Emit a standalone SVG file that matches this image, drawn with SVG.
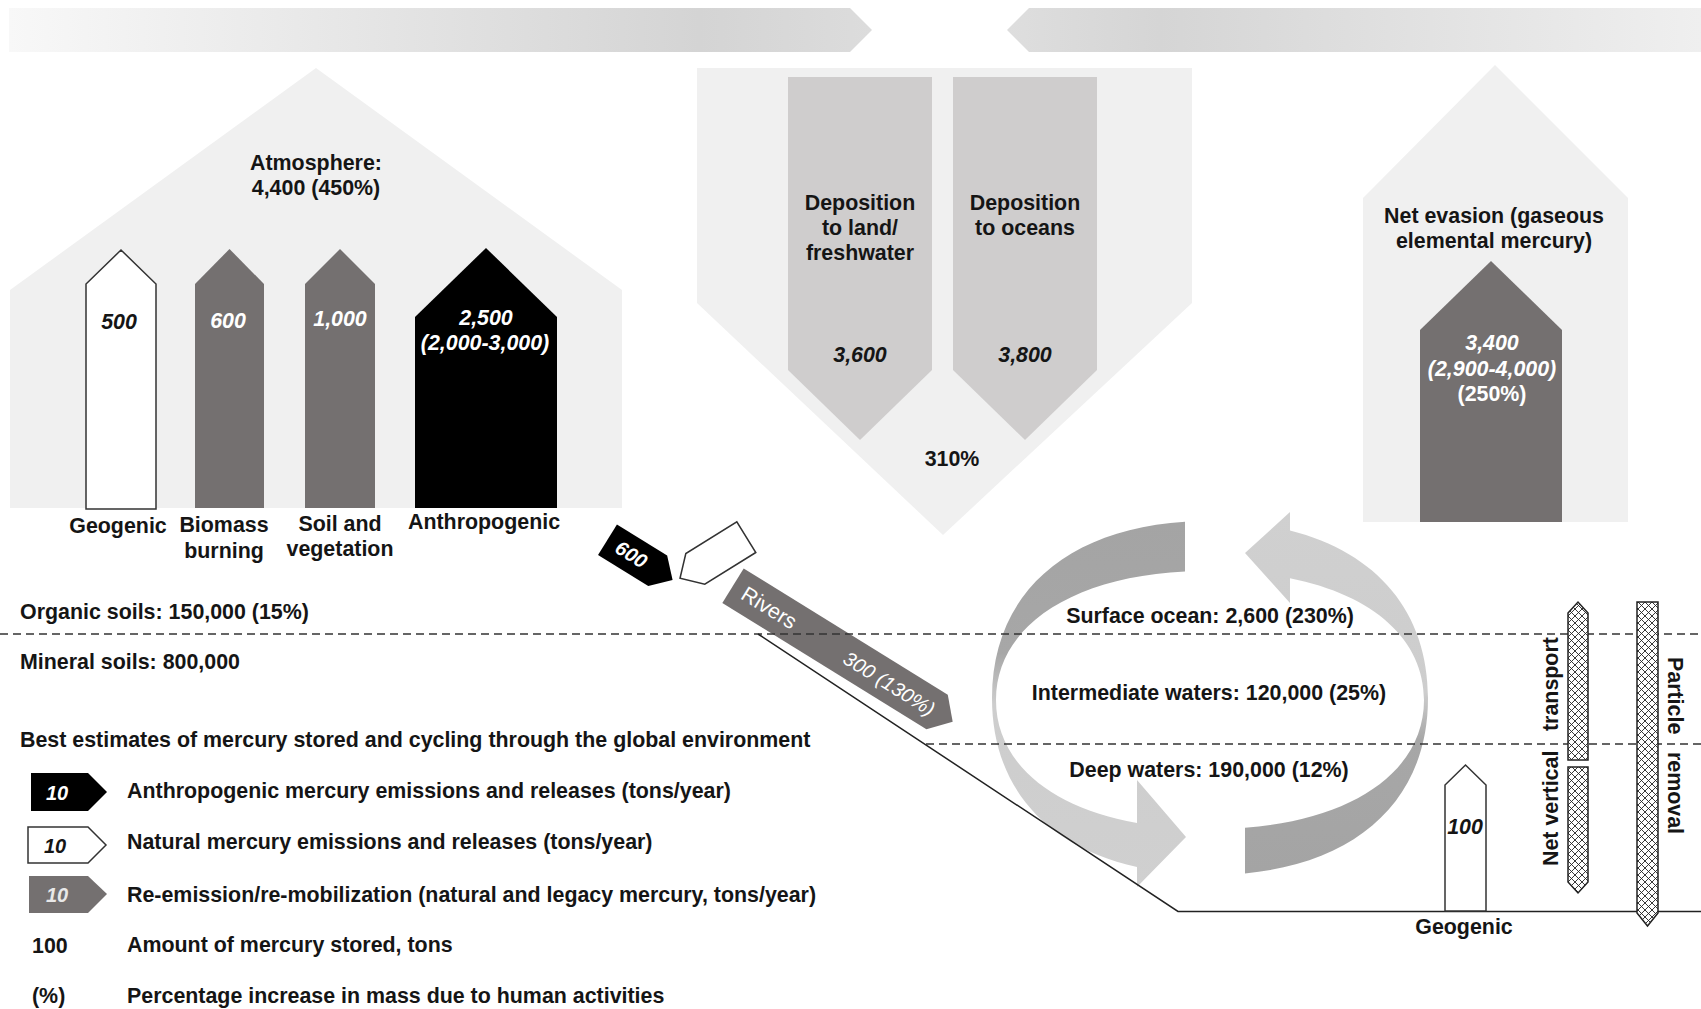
<svg xmlns="http://www.w3.org/2000/svg" width="1701" height="1009" viewBox="0 0 1701 1009">
<defs>
<style>
.t{font-family:"Liberation Sans",Arial,Helvetica,sans-serif;font-size:21.4px;font-weight:bold;fill:#151515}
.c{text-anchor:middle}
.i{font-style:italic}
.w{fill:#fff}
.n{font-weight:normal}
.bg{fill:#f0f0f0}
.gr{fill:#747070}
.dep{fill:#cfcdcd}
.ol{fill:#fff;stroke:#333;stroke-width:1.5}
.dash{stroke:#333;stroke-width:1.5;stroke-dasharray:8 5;fill:none}
.hb{fill:url(#hatch);stroke:#222;stroke-width:1.5}
</style>
<linearGradient id="bannerL" x1="0" y1="0" x2="1" y2="0">
<stop offset="0" stop-color="#f8f8f8"/>
<stop offset="0.8" stop-color="#d4d4d4"/>
<stop offset="1" stop-color="#dcdcdc"/>
</linearGradient>
<linearGradient id="bannerR" x1="0" y1="0" x2="1" y2="0">
<stop offset="0" stop-color="#dedede"/>
<stop offset="0.22" stop-color="#d5d5d5"/>
<stop offset="1" stop-color="#efefef"/>
</linearGradient>
<linearGradient id="arcL" x1="0" y1="0" x2="0" y2="1">
<stop offset="0" stop-color="#a4a4a4"/>
<stop offset="0.36" stop-color="#a7a7a7"/>
<stop offset="0.5" stop-color="#cdcdcd"/>
<stop offset="1" stop-color="#d0d0d0"/>
</linearGradient>
<linearGradient id="arcR" x1="0" y1="0" x2="0" y2="1">
<stop offset="0" stop-color="#d0d0d0"/>
<stop offset="0.5" stop-color="#cdcdcd"/>
<stop offset="0.63" stop-color="#a7a7a7"/>
<stop offset="1" stop-color="#a4a4a4"/>
</linearGradient>
<pattern id="hatch" width="7" height="7" patternUnits="userSpaceOnUse">
<rect width="7" height="7" fill="#fff"/>
<path d="M0,0 L7,7 M7,0 L0,7" stroke="#222" stroke-width="0.9"/>
</pattern>
</defs>

<g id="banners">
<path d="M9,8 H850 L872,30 L850,52 H9 Z" fill="url(#bannerL)"/>
<path d="M1029,8 H1701 V52 H1029 L1007,30 Z" fill="url(#bannerR)"/>
</g>

<g id="atmosphere">
<path class="bg" d="M10,508 V290 L316,68 L622,290 V508 Z"/>
<text class="t c" x="316" y="170">Atmosphere:</text>
<text class="t c" x="316" y="195">4,400 (450%)</text>
<g id="atm-geogenic">
<path class="ol" d="M86,509 V284 L121,250 L156,284 V509 Z"/>
<text class="t c i" x="119" y="329">500</text>
<text class="t c" x="118" y="533">Geogenic</text>
</g>
<g id="atm-biomass">
<path class="gr" d="M195,508 V284 L229.5,249 L264,284 V508 Z"/>
<text class="t c i w" x="228" y="328">600</text>
<text class="t c" x="224" y="532">Biomass</text>
<text class="t c" x="224" y="558">burning</text>
</g>
<g id="atm-soil">
<path class="gr" d="M305,508 V284 L340,249 L375,284 V508 Z"/>
<text class="t c i w" x="340" y="326">1,000</text>
<text class="t c" x="340" y="531">Soil and</text>
<text class="t c" x="340" y="556">vegetation</text>
</g>
<g id="atm-anthropogenic">
<path d="M415,508 V317 L486,248 L557,317 V508 Z" fill="#000"/>
<text class="t c i w" x="486" y="325">2,500</text>
<text class="t c i w" x="485" y="350">(2,000-3,000)</text>
<text class="t c" x="484" y="529">Anthropogenic</text>
</g>
</g>

<g id="deposition">
<path class="bg" d="M697,68 H1192 V303 L943,535 L697,303 Z"/>
<g id="dep-land">
<path class="dep" d="M788,77 H932 V370 L860,440 L788,370 Z"/>
<text class="t c" x="860" y="210">Deposition</text>
<text class="t c" x="860" y="235">to land/</text>
<text class="t c" x="860" y="260">freshwater</text>
<text class="t c i" x="860" y="362">3,600</text>
</g>
<g id="dep-ocean">
<path class="dep" d="M953,77 H1097 V370 L1025,440 L953,370 Z"/>
<text class="t c" x="1025" y="210">Deposition</text>
<text class="t c" x="1025" y="235">to oceans</text>
<text class="t c i" x="1025" y="362">3,800</text>
</g>
<text class="t c" x="952" y="466">310%</text>
</g>

<g id="net-evasion">
<path class="bg" d="M1363,522 V198 L1495,65 L1628,198 V522 Z"/>
<text class="t c" x="1494" y="223">Net evasion (gaseous</text>
<text class="t c" x="1494" y="248">elemental mercury)</text>
<path class="gr" d="M1420,522 V330 L1491,261 L1562,330 V522 Z"/>
<text class="t c i w" x="1492" y="350">3,400</text>
<text class="t c i w" x="1492" y="376">(2,900-4,000)</text>
<text class="t c w" x="1492" y="401">(250%)</text>
</g>

<g id="ocean-cycle">
<path d="M1185,521.7 C1065.3,529.2 992,594.6 992,698 C992,786 1045.1,846.5 1137,867 L1137,887 L1186,837 L1137,780 L1137,823 C1048.7,807.2 996,761.6 996,700 C996,627.6 1069.9,577.3 1185,571.6 Z" fill="url(#arcL)"/>
<path d="M1245,873.4 C1359.3,862.6 1428,798.1 1428,698 C1428,612.2 1377.5,552.5 1290,530.4 L1290,512 L1245,553 L1290,603 L1290,578.2 C1374,595 1424,639.9 1424,700 C1424,770.1 1354.9,819.4 1245,827.8 Z" fill="url(#arcR)"/>
<text class="t c" x="1210" y="623">Surface ocean: 2,600 (230%)</text>
<text class="t c" x="1209" y="700">Intermediate waters: 120,000 (25%)</text>
<text class="t c" x="1209" y="777">Deep waters: 190,000 (12%)</text>
</g>

<g id="land-flows">
<g id="flow-anthro-600" transform="translate(607.5,539.7) rotate(31.7)">
<path d="M0,-18 H59 L76.5,0 L59,18 H0 Z" fill="#000"/>
<text class="t c i w" x="28" y="7" style="font-size:20px">600</text>
</g>
<g id="flow-natural" transform="translate(746.3,537.2) rotate(148.2)">
<path class="ol" d="M0,-18 H60 L78,0 L60,18 H0 Z"/>
</g>
<g id="flow-rivers" transform="translate(733,585.8) rotate(31.74)">
<path class="gr" d="M0,-20.3 H240 L258.3,0 L240,20.3 H0 Z"/>
<text class="t n w" x="12" y="7">Rivers</text>
<text class="t n i w" x="236" y="8" style="text-anchor:end;font-size:20px">300 (130%)</text>
</g>
</g>

<g id="connectors">
<path class="dash" d="M0,634 H1701"/>
<path class="dash" d="M926,744 H1701"/>
<path d="M758,634 L1178,911.5 H1701" fill="none" stroke="#222" stroke-width="1.5"/>
</g>

<g id="soils">
<text class="t" x="20" y="619">Organic soils: 150,000 (15%)</text>
<text class="t" x="20" y="669">Mineral soils: 800,000</text>
</g>

<g id="deep-ocean">
<g id="ocean-geogenic">
<path class="ol" d="M1445,911 V785 L1465.5,765 L1486,785 V911 Z"/>
<text class="t c i" x="1465" y="834">100</text>
<text class="t c" x="1464" y="934">Geogenic</text>
</g>
<g id="net-vertical-transport">
<path class="hb" d="M1568,613 L1578,602 L1588,613 V760 H1568 Z"/>
<path class="hb" d="M1568,767 H1588 V882 L1578,893 L1568,882 Z"/>
<text class="t" transform="translate(1558,866) rotate(-90)"><tspan x="0">Net vertical</tspan><tspan x="135">transport</tspan></text>
</g>
<g id="particle-removal">
<path class="hb" d="M1637,602 H1658 V913 L1647.5,926 L1637,913 Z"/>
<text class="t" transform="translate(1668,657) rotate(90)"><tspan x="0">Particle</tspan><tspan x="95">removal</tspan></text>
</g>
</g>

<g id="legend">
<text class="t" x="20" y="747">Best estimates of mercury stored and cycling through the global environment</text>
<g id="legend-anthro">
<path d="M31,773 H88 L107,792 L88,811 H31 Z" fill="#000"/>
<text class="t c i w" x="57" y="800" style="font-size:20px">10</text>
<text class="t" x="127" y="798">Anthropogenic mercury emissions and releases (tons/year)</text>
</g>
<g id="legend-natural">
<path class="ol" d="M28,827 H88 L106,845 L88,863 H28 Z"/>
<text class="t c i" x="55" y="853" style="font-size:20px">10</text>
<text class="t" x="127" y="849">Natural mercury emissions and releases (tons/year)</text>
</g>
<g id="legend-reemission">
<path class="gr" d="M29,876 H88 L107,894 L88,913 H29 Z"/>
<text class="t c i" x="57" y="902" style="font-size:20px;fill:#e8e8e8">10</text>
<text class="t" x="127" y="902">Re-emission/re-mobilization (natural and legacy mercury, tons/year)</text>
</g>
<g id="legend-stored">
<text class="t" x="32" y="953">100</text>
<text class="t" x="127" y="952">Amount of mercury stored, tons</text>
</g>
<g id="legend-percent">
<text class="t" x="32" y="1003">(%)</text>
<text class="t" x="127" y="1003">Percentage increase in mass due to human activities</text>
</g>
</g>
</svg>
